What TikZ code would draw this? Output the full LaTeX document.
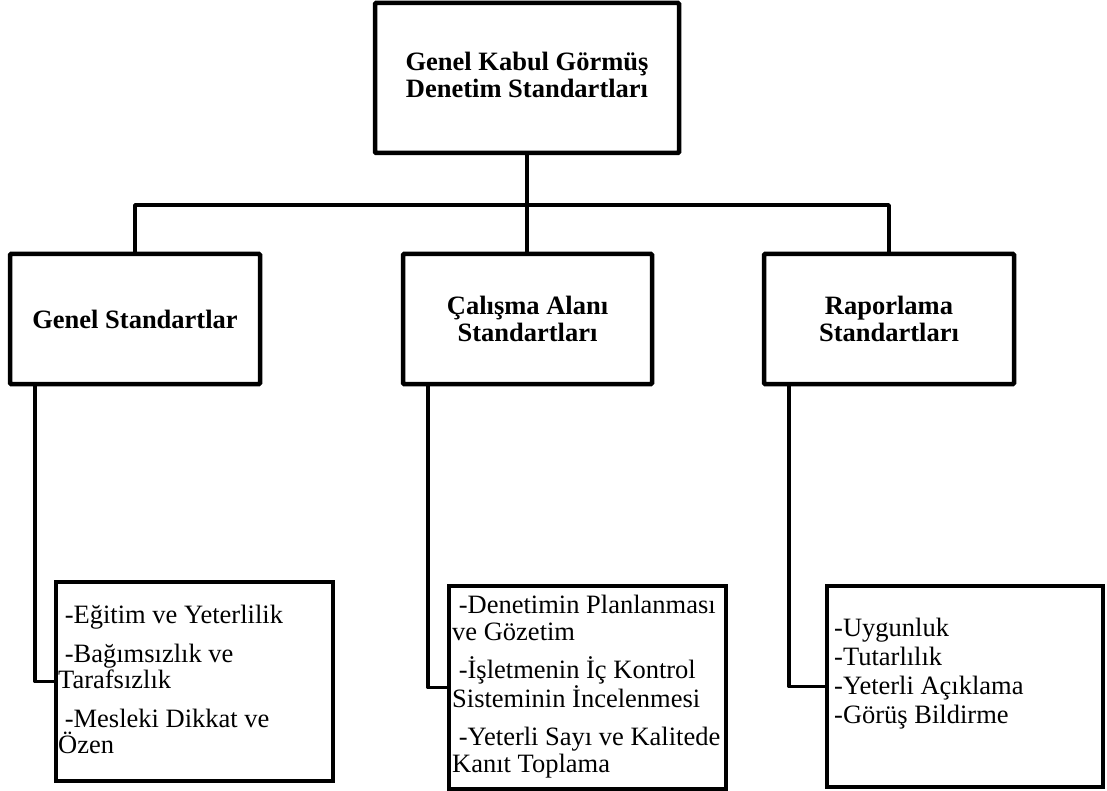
\documentclass[tikz,border=0pt]{standalone}
\usepackage{fontspec}
\setmainfont{Liberation Serif}
\newcommand\ind{\hspace*{0.25em}}
\begin{document}
\begin{tikzpicture}[x=1pt,y=-1pt,
  headbox/.style={draw, line width=4.5pt, rounded corners=1pt, inner sep=0pt,
    align=center, font=\bfseries\fontsize{26.5}{26.5}\selectfont},
  headtext/.style={inner sep=0pt, align=center, font=\bfseries\fontsize{26.5}{26.5}\selectfont},
  listbox/.style={draw, line width=3.5pt, inner sep=0pt},
  listtext/.style={anchor=base west, inner sep=0pt, align=left},
  conn/.style={line width=3.5pt, line join=round}
]
\useasboundingbox (0,0) rectangle (1107,791);

% top level
\node[headbox, minimum width=304pt, minimum height=150pt] (top) at (527,78) {};
\node[headtext] (toptext) at (527,75) {Genel Kabul Görmüş\\Denetim Standartları};

% second level
\node[headbox, minimum width=250pt, minimum height=130pt] (gen) at (135,319)
  {Genel Standartlar};
\node[headbox, minimum width=249pt, minimum height=130pt] (cal) at (527.5,319)
  {Çalışma Alanı\\Standartları};
\node[headbox, minimum width=250pt, minimum height=130pt] (rap) at (889,319)
  {Raporlama\\Standartları};

% detail boxes
\node[listbox, minimum width=277pt, minimum height=199pt] (l1) at (194.5,681.5) {};
\node[listbox, minimum width=277pt, minimum height=203pt] (m1) at (587.5,687.5) {};
\node[listbox, minimum width=276pt, minimum height=201pt] (r1) at (965,686.5) {};

% item lists (placed by the baseline of their last line)
\node[listtext, font=\fontsize{26.5}{26}\selectfont] (l1t) at (58,753)
  {\ind-Eğitim ve Yeterlilik\\[13pt]\ind-Bağımsızlık ve\\Tarafsızlık\\[13pt]\ind-Mesleki Dikkat ve\\Özen};
\node[listtext, font=\fontsize{26.5}{27}\selectfont] (m1t) at (452,772)
  {\ind-Denetimin Planlanması\\ve Gözetim\\[11pt]\ind-İşletmenin İç Kontrol\\Sisteminin İncelenmesi\\[11pt]\ind-Yeterli Sayı ve Kalitede\\Kanıt Toplama};
\node[listtext, font=\fontsize{26.5}{28.7}\selectfont] (r1t) at (834,723)
  {-Uygunluk\\-Tutarlılık\\-Yeterli Açıklama\\-Görüş Bildirme};

% connectors
\coordinate (bus) at (527,205);
\draw[conn] (top.south) -- (top.south |- cal.north);
\draw[conn] (gen.north) -- (gen.north |- bus) -- (rap.north |- bus) -- (rap.north);

\draw[conn] ([xshift=-100pt]gen.south) |- (l1.west);
\draw[conn] ([xshift=-99.5pt]cal.south) |- (m1.west);
\draw[conn] ([xshift=-100pt]rap.south) |- (r1.west);
\end{tikzpicture}
\end{document}
